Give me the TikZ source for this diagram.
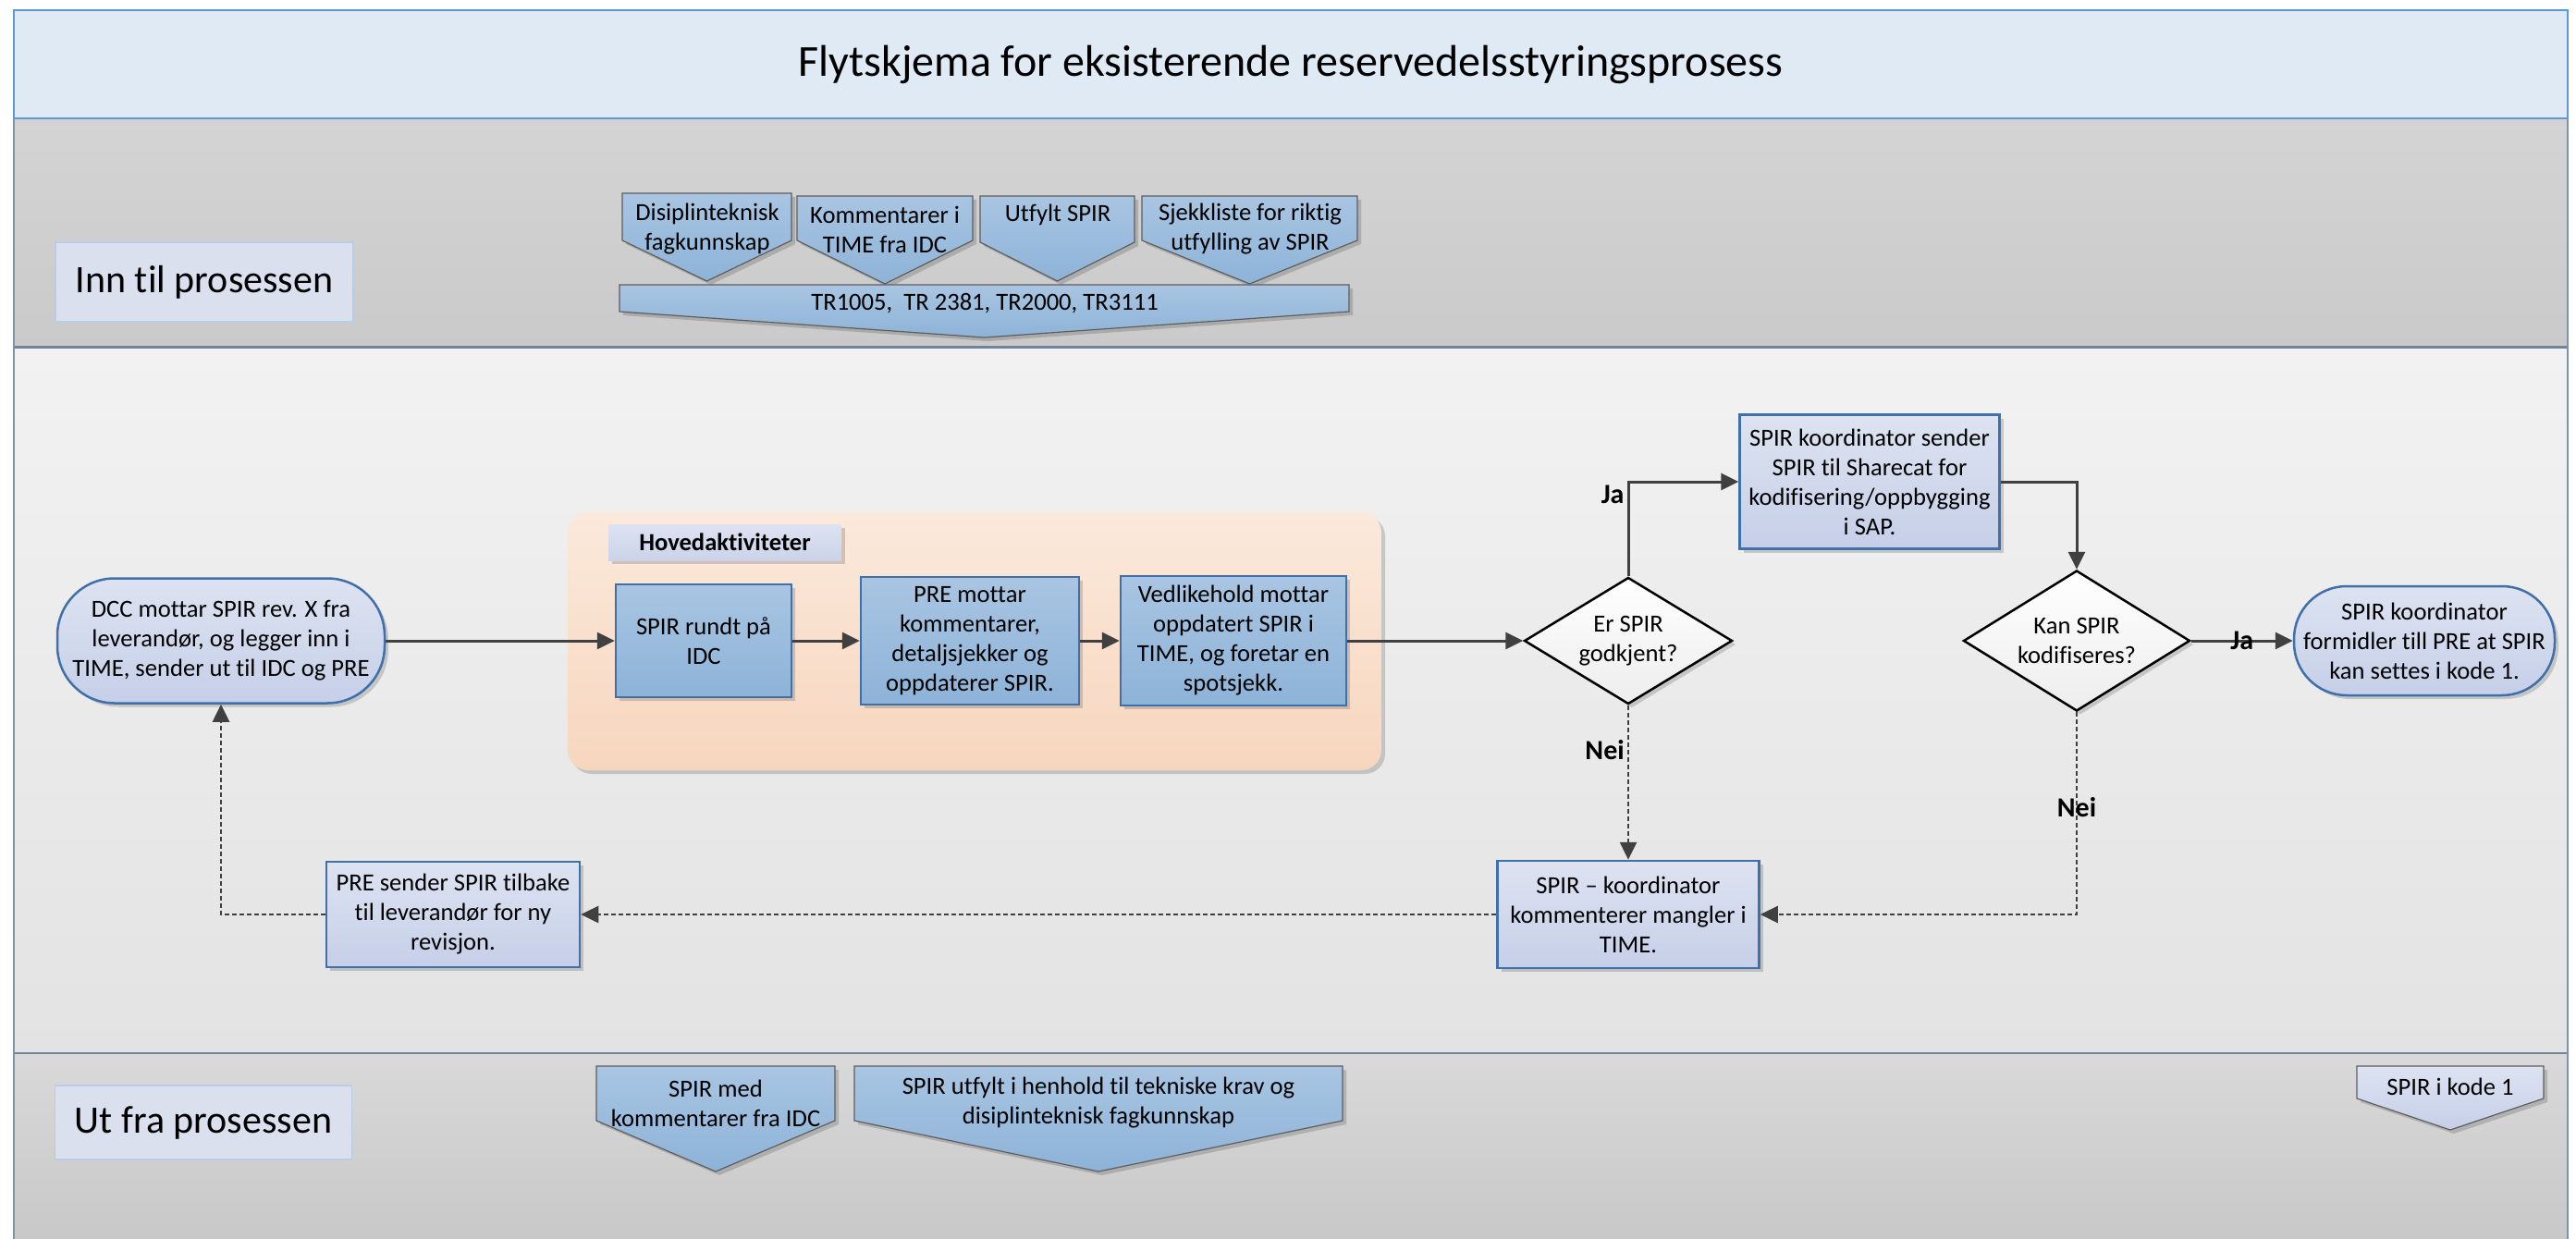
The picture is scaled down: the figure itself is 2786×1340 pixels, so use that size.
\documentclass[tikz,border=0pt]{standalone}
\usepackage{fontspec}
\setmainfont{Carlito}[Ligatures=NoCommon]
\usetikzlibrary{arrows.meta,shapes.geometric,shadows}

\definecolor{titlebg}{HTML}{DFEAF4}
\definecolor{bandline}{HTML}{5B9BD5}
\definecolor{sepline}{HTML}{72849A}
\definecolor{frameline}{HTML}{8093AA}
\definecolor{inT}{HTML}{D4D4D4}
\definecolor{inB}{HTML}{CACACA}
\definecolor{mainT}{HTML}{F2F2F2}
\definecolor{mainB}{HTML}{E3E3E3}
\definecolor{outT}{HTML}{D9D9D9}
\definecolor{outB}{HTML}{C8C8C8}
\definecolor{sidefill}{HTML}{DAE0EE}
\definecolor{sideedge}{HTML}{B9CDE6}
\definecolor{blueT}{HTML}{A9C5E2}
\definecolor{blueB}{HTML}{8DB3D8}
\definecolor{boxedge}{HTML}{3F70A9}
\definecolor{lavT}{HTML}{DDE3F1}
\definecolor{lavB}{HTML}{C6CFE8}
\definecolor{peachT}{HTML}{FBE9DC}
\definecolor{peachB}{HTML}{F7D6BE}
\definecolor{conn}{HTML}{404040}
\definecolor{tagedge}{HTML}{5E5E5E}

% pentagon tag pointing down: style, left, right, top, side bottom, tip
\newcommand{\tagpath}[6]{%
  \path[#1] (#2,#4) -- (#3,#4) -- (#3,#5) -- ({(#2+#3)/2},#6) -- (#2,#5) -- cycle;}

\tikzset{
  softshadow/.style={drop shadow={shadow xshift=4pt, shadow yshift=-4pt, opacity=0.16, fill=black}},
  body/.style={font=\fontsize{26.6}{32}\selectfont, align=center, inner sep=0pt, text=black},
  sidebox/.style={rectangle, fill=sidefill, draw=sideedge, line width=1.5pt,
    font=\fontsize{42}{50}\selectfont, inner sep=0pt},
  tagblue/.style={draw=tagedge, line width=1.2pt, top color=blueT, bottom color=blueB, softshadow},
  taglav/.style={draw=tagedge, line width=1.2pt, top color=lavT, bottom color=lavB, softshadow},
  process/.style={rectangle, draw=boxedge, line width=2.5pt, top color=blueT, bottom color=blueB,
    body, softshadow},
  lavbox/.style={rectangle, draw=boxedge, line width=2.5pt, top color=lavT, bottom color=lavB,
    body, softshadow},
  decision/.style={diamond, draw=black, line width=2.5pt, top color=white, bottom color=black!7,
    body, softshadow},
  container/.style={rectangle, rounded corners=22pt, top color=peachT, bottom color=peachB,
    inner sep=0pt, softshadow},
  labelbox/.style={rectangle, top color=lavT, bottom color=lavB!80!lavT, inner sep=0pt,
    font=\fontsize{26.6}{32}\selectfont\bfseries, softshadow},
  flow/.style={draw=conn, line width=3pt, -{Triangle[length=19pt,width=18pt]}},
  back/.style={draw=conn, line width=2.6pt, dash pattern=on 5pt off 3pt,
    -{Triangle[length=19pt,width=18pt]}},
  answer/.style={font=\fontsize{30}{36}\selectfont\bfseries, inner sep=0pt, text=black},
}

\begin{document}
\begin{tikzpicture}[x=1pt,y=-1pt]
\useasboundingbox (0,0) rectangle (2786,1340);
\fill[white] (0,0) rectangle (2786,1340);

% swim bands
\shade[top color=inT, bottom color=inB] (15,128) rectangle (2777,375);
\shade[top color=mainT, bottom color=mainB] (15,375) rectangle (2777,1139);
\shade[top color=outT, bottom color=outB] (15,1139) rectangle (2777,1340);
\filldraw[fill=titlebg, draw=bandline, line width=2pt] (15,11) rectangle (2777,128);
\draw[sepline, line width=3pt] (15,375) -- (2777,375);
\draw[sepline, line width=2.5pt] (15,1139) -- (2777,1139);
\draw[frameline, line width=2pt] (15,128) -- (15,1340) (2777,128) -- (2777,1340);

\node[font=\fontsize{48}{58}\selectfont, inner sep=0pt] (title) at (1396,70)
  {Flytskjema for eksisterende reservedelsstyringsprosess};

% band headings
\node[sidebox, minimum width=322pt, minimum height=86pt] (inn) at (221,305) {Inn til prosessen};
\node[sidebox, minimum width=321pt, minimum height=80pt] (ut) at (220,1214) {Ut fra prosessen};

% inputs
\tagpath{tagblue}{673}{856}{209}{260}{304}
\tagpath{tagblue}{862}{1052}{212}{260}{307}
\tagpath{tagblue}{1060}{1227}{212}{262}{304}
\tagpath{tagblue}{1235}{1468}{212}{260}{307}
\tagpath{tagblue}{670}{1459}{308}{337}{365}
\node[body] (in1) at (765,248) {Disiplinteknisk\\fagkunnskap};
\node[body] (in2) at (957,248) {Kommentarer i\\TIME fra IDC};
\node[body] (in3) at (1144,232) {Utfylt SPIR};
\node[body] (in4) at (1352,248) {Sjekkliste for riktig\\utfylling av SPIR};
\node[body] (in5) at (1065,328) {TR1005,\ \ TR 2381, TR2000, TR3111};

% outputs
\tagpath{tagblue}{645}{903}{1153}{1212}{1267}
\tagpath{tagblue}{924}{1452}{1153}{1212}{1267}
\tagpath{taglav}{2549}{2751}{1153}{1188}{1222}
\node[body] (out1) at (774,1193) {SPIR med\\kommentarer fra IDC};
\node[body] (out2) at (1188,1193) {SPIR utfylt i henhold til tekniske krav og\\disiplinteknisk fagkunnskap};
\node[body] (out3) at (2650,1175) {SPIR i kode 1};

% main activities group
\node[container, minimum width=880pt, minimum height=279pt] (hoved) at (1054,693.5) {};
\node[labelbox, minimum width=252pt, minimum height=39pt] (hovedlbl) at (784,586.5) {Hovedaktiviteter};

% flow nodes
\node[lavbox, rounded corners=62pt, minimum width=354pt, minimum height=135pt] (start) at (239,693)
  {DCC mottar SPIR rev. X fra\\leverandør, og legger inn i\\TIME, sender ut til IDC og PRE};
\node[process, minimum width=190pt, minimum height=122pt] (p1) at (761,693) {SPIR rundt på\\IDC};
\node[process, minimum width=236pt, minimum height=138pt] (p2) at (1049,693)
  {PRE mottar\\kommentarer,\\detaljsjekker og\\oppdaterer SPIR.};
\node[process, minimum width=244pt, minimum height=140pt] (p3) at (1334,693)
  {Vedlikehold mottar\\oppdatert SPIR i\\TIME, og foretar en\\spotsjekk.};
\node[decision, aspect=1.64, minimum width=225pt, minimum height=137pt] (d1) at (1761,693)
  {Er SPIR\\godkjent?};
\node[lavbox, minimum width=281pt, minimum height=145pt] (sap) at (2022,521)
  {SPIR koordinator sender\\SPIR til Sharecat for\\kodifisering/oppbygging\\i SAP.};
\node[decision, aspect=1.6, minimum width=245pt, minimum height=152pt] (d2) at (2246,693)
  {Kan SPIR\\kodifiseres?};
\node[lavbox, rounded corners=57pt, minimum width=282pt, minimum height=118pt] (end) at (2622,693)
  {SPIR koordinator\\formidler till PRE at SPIR\\kan settes i kode 1.};
\node[lavbox, minimum width=283pt, minimum height=116pt] (kom) at (1761,989)
  {SPIR – koordinator\\kommenterer mangler i\\TIME.};
\node[lavbox, minimum width=274pt, minimum height=114pt] (pre) at (490,989)
  {PRE sender SPIR tilbake\\til leverandør for ny\\revisjon.};

% connectors
\draw[flow] (start.east) -- (p1.west);
\draw[flow] (p1.east) -- (p2.west);
\draw[flow] (p2.east) -- (p3.west);
\draw[flow] (p3.east) -- (d1.west);
\draw[flow] (d1.north) |- node[answer, pos=0.43, anchor=east, xshift=-3pt] (ja1) {Ja} (sap.west);
\draw[flow] (sap.east) -| (d2.north);
\draw[flow] (d2.east) -- node[answer, midway] (ja2) {Ja} (end.west);
\draw[back] (d1.south) -- node[answer, pos=0.29, anchor=east, xshift=-3pt] (nei1) {Nei} (kom.north);
\draw[back] (d2.south) |- node[answer, pos=0.235] (nei2) {Nei} (kom.east);
\draw[back] (kom.west) -- (pre.east);
\draw[back] (pre.west) -| (start.south);
\end{tikzpicture}
\end{document}
